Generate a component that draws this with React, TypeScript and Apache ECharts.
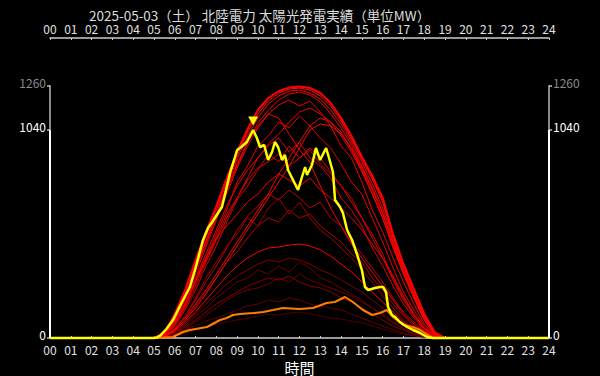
import React, { useEffect, useRef } from "react";
import * as echarts from "echarts";

const TITLE = "2025-05-03（土） 北陸電力 太陽光発電実績（単位MW）";
const FONT = "'Noto Sans CJK JP', 'Noto Sans', sans-serif";

// half-hour times (h) for past days, with the midnight ends
const TIMES = [0, 5, 5.5, 6, 6.5, 7, 7.5, 8, 8.5, 9, 9.5, 10, 10.5, 11, 11.5, 12, 12.5, 13, 13.5, 14, 14.5, 15, 15.5, 16, 16.5, 17, 17.5, 18, 18.5, 19, 24];

// past days (MW)
const D01 = [0, 0, 25, 120, 240, 390, 530, 660, 800, 930, 1045, 1140, 1200, 1235, 1252, 1258, 1250, 1225, 1175, 1100, 1010, 905, 810, 700, 520, 370, 245, 120, 30, 0, 0];
const D02 = [0, 0, 20, 110, 225, 370, 510, 640, 780, 910, 1030, 1120, 1185, 1225, 1245, 1250, 1240, 1210, 1160, 1085, 995, 895, 795, 680, 505, 360, 235, 110, 25, 0, 0];
const D03 = [0, 0, 15, 95, 210, 350, 490, 620, 760, 895, 1010, 1100, 1170, 1210, 1235, 1240, 1225, 1195, 1140, 1070, 980, 880, 770, 650, 490, 345, 220, 100, 20, 0, 0];
const D04 = [0, 0, 15, 90, 200, 340, 470, 600, 735, 860, 975, 1075, 1140, 1190, 1220, 1230, 1215, 1180, 1120, 1050, 965, 860, 750, 630, 470, 330, 210, 95, 18, 0, 0];
const D05 = [0, 0, 12, 85, 190, 320, 455, 590, 720, 850, 960, 1050, 1120, 1165, 1190, 1160, 1185, 1130, 1060, 960, 900, 780, 640, 530, 400, 280, 170, 70, 12, 0, 0];
const D06 = [0, 0, 10, 70, 160, 280, 400, 520, 640, 780, 860, 960, 1010, 1080, 1050, 1110, 1060, 1000, 950, 870, 780, 720, 600, 480, 350, 230, 140, 60, 10, 0, 0];
const D07 = [0, 0, 8, 60, 140, 240, 360, 460, 580, 690, 760, 840, 920, 880, 960, 900, 940, 870, 820, 760, 700, 600, 520, 420, 300, 200, 120, 50, 8, 0, 0];
const D08 = [0, 0, 6, 45, 100, 170, 240, 320, 400, 480, 560, 640, 720, 820, 900, 980, 1060, 1100, 1080, 1030, 940, 840, 720, 600, 460, 320, 200, 90, 15, 0, 0];
const D09 = [0, 0, 6, 50, 110, 190, 280, 360, 450, 540, 610, 660, 720, 690, 740, 700, 650, 680, 600, 560, 480, 420, 350, 280, 200, 130, 80, 35, 5, 0, 0];
const D10 = [0, 0, 5, 35, 80, 130, 190, 250, 310, 360, 400, 430, 450, 455, 465, 470, 460, 440, 410, 370, 330, 280, 230, 180, 130, 80, 45, 15, 3, 0, 0];
const D11 = [0, 0, 4, 25, 55, 90, 130, 170, 200, 230, 260, 280, 300, 290, 310, 280, 260, 250, 230, 200, 180, 150, 120, 90, 60, 40, 20, 8, 2, 0, 0];
const D12 = [0, 0, 3, 20, 40, 60, 85, 100, 120, 140, 160, 170, 190, 180, 200, 190, 170, 160, 150, 140, 120, 100, 80, 60, 40, 25, 12, 5, 1, 0, 0];
const D13 = [0, 0, 5, 40, 90, 160, 230, 300, 380, 430, 500, 560, 600, 580, 640, 600, 620, 560, 520, 480, 420, 380, 300, 240, 170, 110, 60, 25, 4, 0, 0];
const D14 = [0, 0, 14, 95, 205, 345, 480, 615, 750, 870, 980, 1060, 1120, 1100, 1020, 940, 880, 760, 650, 560, 470, 400, 330, 260, 190, 120, 70, 30, 5, 0, 0];
const D15 = [0, 0, 4, 30, 70, 120, 170, 220, 270, 310, 340, 370, 390, 380, 400, 390, 370, 340, 320, 290, 260, 230, 190, 150, 110, 70, 40, 15, 2, 0, 0];
const D16 = [0, 0, 8, 65, 150, 260, 380, 490, 600, 700, 790, 850, 880, 920, 860, 900, 950, 900, 830, 760, 680, 600, 500, 400, 290, 190, 110, 45, 8, 0, 0];
const D17 = [0, 0, 3, 18, 45, 80, 115, 150, 190, 220, 240, 250, 270, 300, 280, 320, 290, 270, 250, 230, 210, 180, 150, 120, 80, 50, 25, 10, 2, 0, 0];
const D18 = [0, 0, 10, 75, 170, 290, 400, 500, 560, 620, 680, 720, 780, 820, 790, 760, 800, 740, 700, 650, 600, 540, 470, 400, 310, 210, 120, 50, 10, 0, 0];
const D19 = [0, 0, 2, 10, 25, 40, 55, 70, 80, 90, 100, 110, 120, 115, 125, 130, 120, 110, 100, 95, 85, 75, 60, 45, 30, 20, 10, 4, 1, 0, 0];
const D20 = [0, 0, 12, 80, 175, 300, 420, 540, 660, 760, 840, 900, 970, 1020, 1080, 1130, 1150, 1120, 1080, 1010, 930, 830, 720, 600, 450, 320, 200, 90, 15, 0, 0];
const D21 = [0, 0, 10, 75, 165, 280, 390, 500, 620, 700, 800, 900, 960, 1000, 930, 980, 900, 860, 800, 700, 640, 560, 450, 360, 260, 170, 100, 40, 8, 0, 0];
const D22 = [0, 0, 6, 45, 110, 200, 300, 380, 460, 520, 600, 560, 650, 700, 620, 680, 600, 540, 500, 450, 400, 340, 280, 210, 150, 90, 45, 15, 3, 0, 0];
const D23 = [0, 0, 4, 30, 60, 110, 150, 200, 240, 280, 300, 340, 320, 360, 330, 380, 350, 300, 280, 250, 220, 190, 150, 110, 75, 45, 20, 8, 1, 0, 0];
const D24 = [0, 0, 5, 40, 90, 150, 220, 300, 380, 460, 540, 620, 700, 780, 860, 950, 1040, 1070, 1060, 1020, 950, 850, 740, 620, 480, 340, 215, 100, 20, 0, 0];

const PAST_DAYS = [D19, D12, D17, D11, D23, D15, D09, D22, D13, D07, D16, D18, D06, D21, D05, D20, D14, D04, D24, D08, D03, D10, D02, D01];
const PAST_COLORS = ["#500000", "#600000", "#700000", "#880000", "#680000", "#800000", "#c00000", "#a00000", "#b00000", "#d80000", "#e00000", "#f00000", "#e80000", "#e00000", "#f00000", "#f00000", "#ff0000", "#f00000", "#ff0000", "#ff0000", "#ff0000", "#ff0000", "#ff1010", "#ff0000"];

// orange day
const ORANGE_TIMES = [0, 5.2, 5.5, 5.9, 6.4, 6.73, 7.0, 7.55, 8.18, 8.5, 8.8, 9.14, 9.77, 10.25, 10.73, 11.2, 12.0, 12.65, 13.3, 13.7, 14.19, 14.57, 15.05, 15.5, 15.87, 16.2, 16.5, 16.98, 17.46, 17.8, 18.18, 18.4, 24];
const ORANGE_MW = [0, 0, 2, 5, 30, 40, 45, 55, 90, 100, 115, 120, 125, 130, 140, 150, 145, 150, 175, 180, 205, 180, 140, 115, 125, 140, 105, 65, 55, 40, 15, 0, 0];

// today (yellow)
const TODAY_TIMES = [0, 5.0, 5.15, 5.3, 5.6, 5.92, 6.3, 6.73, 7.0, 7.36, 7.6, 7.8, 8.05, 8.27, 8.5, 8.66, 9.0, 9.2, 9.47, 9.77, 9.95, 10.1, 10.3, 10.49, 10.68, 10.82, 10.97, 11.16, 11.3, 11.45, 11.69, 11.93, 12.12, 12.27, 12.36, 12.6, 12.79, 12.99, 13.28, 13.42, 13.61, 13.71, 13.95, 14.09, 14.29, 14.53, 14.81, 15.0, 15.15, 15.3, 15.63, 15.87, 16.02, 16.16, 16.26, 16.45, 16.6, 16.83, 17.17, 17.46, 17.8, 18.13, 18.42, 24];
const TODAY_MW = [0, 0, 3, 12, 45, 90, 170, 255, 350, 490, 550, 580, 620, 655, 755, 825, 940, 955, 980, 1040, 1000, 955, 965, 890, 930, 980, 955, 890, 915, 840, 790, 740, 805, 855, 815, 865, 950, 890, 950, 900, 830, 690, 655, 625, 540, 490, 405, 340, 255, 240, 250, 255, 255, 230, 155, 115, 105, 80, 55, 40, 25, 5, 0, 0];

const Y_MAX = 1260;
const HOUR_TICKS = 24;

const pair = (t: number[], v: number[]) => t.map((h, i) => [h, v[i]]);
const pad2 = (v: number) => String(Math.round(v)).padStart(2, "0");

export default function App() {
  const ref = useRef<HTMLDivElement>(null);
  useEffect(() => {
    if (!ref.current) return;
    const chart = echarts.init(ref.current, null, { renderer: "svg" });
    const todayMax = Math.max(...TODAY_MW);
    const yTicks = [0, todayMax, Y_MAX];

    const xBase = (pos: "top" | "bottom") => ({
      type: "value",
      position: pos,
      min: 0,
      max: HOUR_TICKS,
      interval: 1,
      offset: pos === "top" ? 48 : 0,
      splitLine: { show: false },
      axisLine: { show: true, onZero: false, lineStyle: { color: "#cccccc", width: 1.5 } },
      axisTick: { show: true, inside: true, length: 2, lineStyle: { color: "#cccccc" } },
      axisLabel: {
        color: "#e0e0e0",
        fontSize: 12,
        lineHeight: 12,
        fontFamily: FONT,
        margin: pos === "top" ? 4 : 5,
        formatter: pad2,
      },
      ...(pos === "bottom"
        ? {
            name: "時間",
            nameLocation: "middle",
            nameGap: 20,
            nameTextStyle: { color: "#ffffff", fontSize: 15, lineHeight: 16, fontFamily: FONT },
          }
        : {}),
    });

    const yBase = (pos: "left" | "right") => ({
      type: "value",
      position: pos,
      min: 0,
      max: Y_MAX,
      splitLine: { show: false },
      axisLine: { show: true, onZero: false, lineStyle: { color: "#8a8a8a", width: 2 } },
      axisTick: { show: true, customValues: yTicks, length: 3, lineStyle: { color: "#bbbbbb", width: 1.5 } },
      axisLabel: {
        customValues: yTicks,
        margin: 4,
        fontFamily: FONT,
        fontSize: 12,
        verticalAlign: "bottom",
        lineHeight: 8,
        formatter: (v: number) => (v === Y_MAX ? `{g|${v}}` : `{w|${v}}`),
        rich: {
          g: { color: "#8a8a8a", fontSize: 12, fontFamily: FONT, lineHeight: 8 },
          w: { color: "#ffffff", fontSize: 12, fontFamily: FONT, lineHeight: 8 },
        },
      },
    });

    const series: any[] = PAST_DAYS.map((d, i) => ({
      type: "line",
      data: pair(TIMES, d),
      symbol: "none",
      lineStyle: { color: PAST_COLORS[i], width: i === PAST_DAYS.length - 1 ? 2 : 1 },
      silent: true,
    }));
    series.push({
      type: "line",
      data: pair(ORANGE_TIMES, ORANGE_MW),
      symbol: "none",
      lineStyle: { color: "#ff8000", width: 2 },
    });
    series.push({
      type: "line",
      data: pair(TODAY_TIMES, TODAY_MW),
      symbol: "none",
      clip: false,
      lineStyle: { color: "#ffff00", width: 2.5 },
      markPoint: {
        symbol: "triangle",
        symbolSize: [10, 9],
        symbolRotate: 180,
        symbolOffset: [0, -9],
        itemStyle: { color: "#ffff00" },
        label: { show: false },
        data: [{ type: "max" }],
      },
      markLine: {
        silent: true,
        symbol: "none",
        label: { show: false },
        lineStyle: { color: "#ffffff", width: 2, type: "solid" },
        data: [
          [{ coord: [0, 0] }, { coord: [0, todayMax] }],
          [{ coord: [HOUR_TICKS, 0] }, { coord: [HOUR_TICKS, todayMax] }],
        ],
      },
    });

    chart.setOption({
      backgroundColor: "#000000",
      animation: false,
      title: {
        text: TITLE,
        left: 84,
        top: 2,
        textStyle: { color: "#dddddd", fontSize: 13.5, lineHeight: 16, fontWeight: "normal", fontFamily: FONT },
      },
      grid: { left: 50, right: 51, top: 86, bottom: 38, outerBoundsMode: "none", containLabel: false },
      xAxis: [xBase("bottom"), xBase("top")],
      yAxis: [yBase("left"), yBase("right")],
      series,
    });
    return () => chart.dispose();
  }, []);
  return (
    <div
      ref={ref}
      style={{ position: "fixed", left: 0, top: 0, width: 600, height: 376, background: "#000" }}
    />
  );
}
